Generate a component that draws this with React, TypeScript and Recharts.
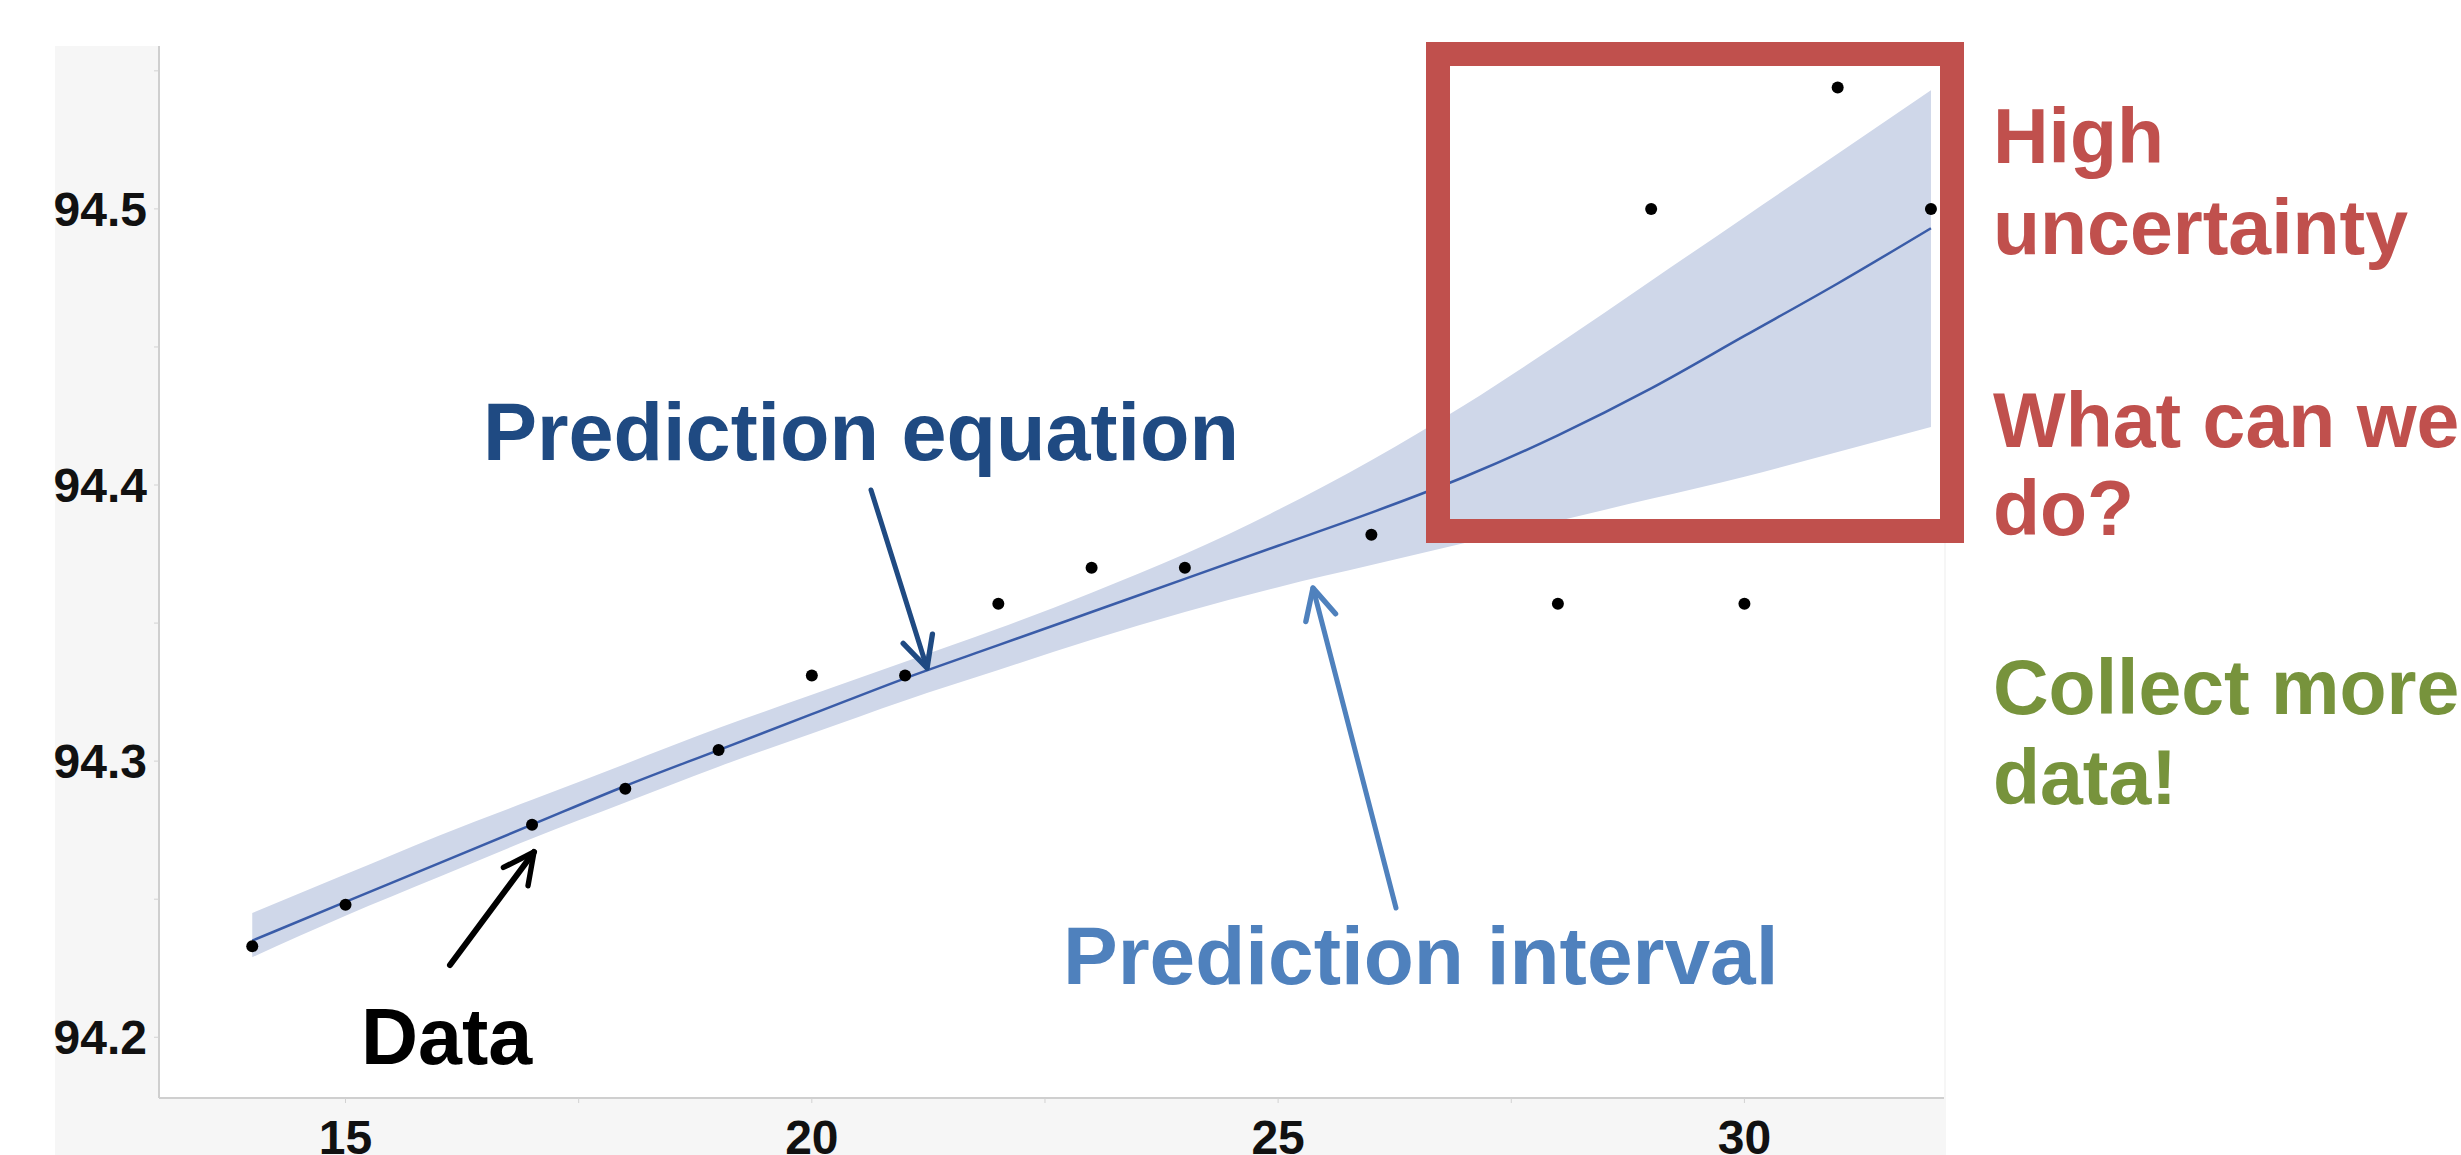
import React from "react";
import {
  ComposedChart,
  Area,
  Line,
  Scatter,
  XAxis,
  YAxis,
  CartesianGrid,
} from "recharts";

// fitted curve and its prediction band, sampled at each x
const fitX = [14, 15, 16, 17, 18, 19, 20, 21, 22, 23, 24, 25, 26, 27, 28, 29, 30, 31, 32];
const fitY = [
  94.235, 94.249, 94.263, 94.277, 94.291, 94.304, 94.317, 94.33, 94.342, 94.354,
  94.366, 94.378, 94.39, 94.403, 94.418, 94.435, 94.454, 94.473, 94.493,
];
const bandLow = [
  94.229, 94.244, 94.258, 94.272, 94.285, 94.298, 94.31, 94.322, 94.333, 94.344,
  94.354, 94.363, 94.371, 94.379, 94.387, 94.395, 94.403, 94.412, 94.421,
];
const bandHigh = [
  94.245, 94.259, 94.273, 94.286, 94.299, 94.312, 94.324, 94.336, 94.348, 94.361,
  94.375, 94.391, 94.409, 94.429, 94.451, 94.474, 94.497, 94.52, 94.543,
];

// observed points
const obsX = [14, 15, 17, 18, 19, 20, 21, 22, 23, 24, 26, 28, 29, 30, 31, 32];
const obsY = [
  94.233, 94.248, 94.277, 94.29, 94.304, 94.331, 94.331, 94.357, 94.37, 94.37,
  94.382, 94.357, 94.5, 94.357, 94.544, 94.5,
];

const xTicks = [15, 17.5, 20, 22.5, 25, 27.5, 30];
const yTicks = [94.2, 94.25, 94.3, 94.35, 94.4, 94.45, 94.5, 94.55];

const fitData = fitX.map((x, i) => ({ x, fit: fitY[i], band: [bandLow[i], bandHigh[i]] }));
const obsData = obsX.map((x, i) => ({ x, y: obsY[i] }));

const FONT = "'Liberation Sans', Arial, Helvetica, sans-serif";
const tickStyle = { fill: "#111", fontSize: 48, fontWeight: 700, fontFamily: FONT };
const axisStroke = { stroke: "#cfcfcf", strokeWidth: 2 };

const Dot = (props: any) => <circle cx={props.cx} cy={props.cy} r={6} fill="#000" />;

function Arrow({ x1, y1, x2, y2, color, width, id }: any) {
  return (
    <g>
      <defs>
        <marker
          id={id}
          viewBox="0 0 24 24"
          refX={21}
          refY={12}
          markerWidth={46}
          markerHeight={46}
          markerUnits="userSpaceOnUse"
          orient="auto"
        >
          <path d="M5,4 L21,12 L5,20" fill="none" stroke={color} strokeWidth={2.8} strokeLinecap="round" strokeLinejoin="round" />
        </marker>
      </defs>
      <line x1={x1} y1={y1} x2={x2} y2={y2} stroke={color} strokeWidth={width} strokeLinecap="round" markerEnd={`url(#${id})`} />
    </g>
  );
}

export default function App() {
  return (
    <div style={{ position: "absolute", left: 0, top: 0, width: 2461, height: 1155, background: "#fff", overflow: "hidden" }}>
      {/* grey frame behind the axes */}
      <div style={{ position: "absolute", left: 55, top: 46, width: 1891, height: 1109, background: "#f6f6f6" }} />
      <div style={{ position: "absolute", left: 0, top: 0 }}>
        <ComposedChart width={2461} height={1155} data={fitData} margin={{ top: 46, right: 517, bottom: 0, left: 0 }}>
          <CartesianGrid horizontal={false} vertical={false} fill="#ffffff" />
          <XAxis
            type="number"
            dataKey="x"
            domain={[13, 32.14]}
            allowDataOverflow
            ticks={xTicks}
            tickFormatter={(v: number) => (v % 5 === 0 ? String(v) : "")}
            height={57}
            tickSize={5}
            tickMargin={17}
            tick={tickStyle}
            axisLine={axisStroke}
            tickLine={{ stroke: "#d2d2d2" }}
          />
          <XAxis
            xAxisId="top"
            orientation="top"
            type="number"
            dataKey="x"
            domain={[13, 32.14]}
            allowDataOverflow
            height={0}
            tick={false}
            tickLine={false}
            axisLine={axisStroke}
          />
          <YAxis
            type="number"
            domain={[94.178, 94.559]}
            allowDataOverflow
            ticks={yTicks}
            tickFormatter={(v: number) => (Math.abs(v * 10 - Math.round(v * 10)) < 1e-6 ? v.toFixed(1) : "")}
            width={159}
            tickSize={5}
            tickMargin={7}
            tick={tickStyle}
            axisLine={axisStroke}
            tickLine={{ stroke: "#d2d2d2" }}
          />
          <Area
            dataKey="band"
            type="monotone"
            stroke="none"
            fill="#cfd7e9"
            fillOpacity={1}
            isAnimationActive={false}
          />
          <Line
            dataKey="fit"
            type="monotone"
            stroke="#3a5ca8"
            strokeWidth={2.5}
            dot={false}
            activeDot={false}
            isAnimationActive={false}
          />
          <Scatter data={obsData} dataKey="y" shape={Dot} isAnimationActive={false} />
        </ComposedChart>
      </div>

      {/* callouts */}
      <svg
        width={2461}
        height={1155}
        style={{ position: "absolute", left: 0, top: 0, pointerEvents: "none" }}
        fontFamily={FONT}
        fontWeight={700}
      >
        <rect x={1438} y={54} width={514} height={477} fill="none" stroke="#c0504d" strokeWidth={24} />

        <Arrow id="a-data" x1={450} y1={965} x2={534} y2={852} color="#000" width={6} />
        <Arrow id="a-eq" x1={871} y1={490} x2={927} y2={668} color="#1f4a82" width={5} />
        <Arrow id="a-int" x1={1396} y1={908} x2={1313} y2={588} color="#4f81bd" width={5} />

        <text x={483} y={460} fontSize={81} fill="#1f4a82">Prediction equation</text>
        <text x={1063} y={984} fontSize={82} fill="#4f81bd">Prediction interval</text>
        <text x={361} y={1064} fontSize={79} fill="#000">Data</text>

        <text x={1993} y={163} fontSize={77} fill="#c0504d">High</text>
        <text x={1993} y={254} fontSize={77} fill="#c0504d">uncertainty</text>
        <text x={1993} y={447} fontSize={77} fill="#c0504d">What can we</text>
        <text x={1993} y={535} fontSize={77} fill="#c0504d">do?</text>
        <text x={1993} y={714} fontSize={77} fill="#77933c">Collect more</text>
        <text x={1993} y={804} fontSize={77} fill="#77933c">data!</text>
      </svg>
    </div>
  );
}
